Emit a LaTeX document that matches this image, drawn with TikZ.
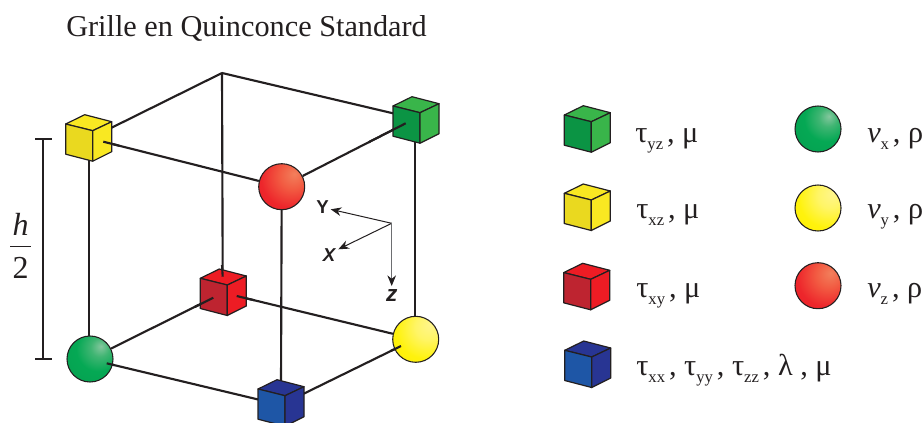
\documentclass[tikz,border=0pt]{standalone}
\usepackage{fontspec}
\setmainfont{Liberation Serif}
\setsansfont{Liberation Sans}
\usetikzlibrary{arrows.meta,calc,backgrounds}
\definecolor{ink}{HTML}{231F20}
\definecolor{axgray}{HTML}{6D6E71}
\definecolor{gT}{HTML}{39B54A}\definecolor{gL}{HTML}{0B9444}\definecolor{gR}{HTML}{39B54A}
\definecolor{yT}{HTML}{F9E822}\definecolor{yL}{HTML}{EAD91F}\definecolor{yR}{HTML}{F9E822}
\definecolor{rT}{HTML}{ED1C24}\definecolor{rL}{HTML}{BE2430}\definecolor{rR}{HTML}{ED1C24}
\definecolor{bT}{HTML}{283593}\definecolor{bL}{HTML}{1E56A6}\definecolor{bR}{HTML}{283593}
\pgfdeclareradialshading{ballgreen}{\pgfpoint{12bp}{14bp}}{rgb(0bp)=(0.52,0.78,0.62);rgb(10bp)=(0.25,0.71,0.45);rgb(24bp)=(0.02,0.66,0.33);rgb(50bp)=(0.02,0.62,0.31);rgb(100bp)=(0.02,0.62,0.31)}
\pgfdeclareradialshading{ballyellow}{\pgfpoint{16bp}{16bp}}{rgb(0bp)=(1,0.96,0.55);rgb(14bp)=(1,0.96,0.40);rgb(32bp)=(1,0.95,0.05);rgb(50bp)=(1,0.93,0);rgb(100bp)=(1,0.93,0)}
\pgfdeclareradialshading{ballred}{\pgfpoint{14bp}{14bp}}{rgb(0bp)=(0.95,0.50,0.36);rgb(14bp)=(0.95,0.36,0.26);rgb(32bp)=(0.93,0.15,0.17);rgb(50bp)=(0.93,0.11,0.14);rgb(100bp)=(0.93,0.11,0.14)}
\tikzset{
  x=0.75pt,y=-0.75pt,
  edge/.style={draw=ink,line width=1.6pt},
  face/.style={draw=ink,line width=0.9pt,line join=round},
  ball/.style={circle,draw=ink,line width=0.8pt,minimum size=34.5pt,inner sep=0pt,shading=#1},
  lab/.style={anchor=base west,inner sep=0pt,font=\fontsize{22.7}{26}\selectfont,text=ink},
  frac/.style={anchor=base,inner sep=0pt,font=\fontsize{24}{28}\selectfont,text=ink},
  axlab/.style={inner sep=0pt,font=\sffamily\bfseries\fontsize{14}{16}\selectfont,text=ink},
  axis/.style={draw=ink,line width=0.75pt,-{Stealth[length=8pt,width=6.5pt]}},
  pics/cube/.style n args={3}{code={
    \path[face,fill=#1] (0,0) -- (-27,-6.7) -- (-8,-16) -- (19,-9) -- cycle;
    \path[face,fill=#2] (0,0) -- (-27,-6.7) -- (-27,23.5) -- (0,30.5) -- cycle;
    \path[face,fill=#3] (0,0) -- (19,-9) -- (19,21) -- (0,30.5) -- cycle;
  }}
}
\newcommand{\sbs}[1]{\raisebox{-0.25em}{\fontsize{12.5}{12.5}\selectfont #1}\kern0.13em}
\begin{document}
\begin{tikzpicture}
\path[use as bounding box,clip] (0,0) rectangle (923,422);
\node[lab] (title) at (66,36) {Grille en Quinconce Standard};
% named points
\coordinate (topc) at (222,73);
\coordinate (ycF) at (92.7,130.7);
\coordinate (gcF) at (420,112.7);
\coordinate (rcF) at (227.3,285);
\coordinate (bcF) at (285,395.7);
\coordinate (yc1) at (111,128);
\coordinate (yc2) at (103.3,141.7);
\coordinate (yc3) at (88.7,155);
\coordinate (gc1) at (396,114);
\coordinate (gc2) at (405.7,123.3);
\coordinate (gc3) at (415.4,140);
\coordinate (rc1) at (222.7,276.7);
\coordinate (rc2) at (213.3,297.7);
\coordinate (rc3) at (236.7,296);
\coordinate (bc1) at (281,385);
\coordinate (bc2) at (262,400.4);
\coordinate (bc3) at (300,395.5);
\coordinate (sg1) at (106.7,363.3);
\coordinate (sy1) at (401,346);
% cubes and balls
\pic at (ycF) {cube={yT}{yL}{yR}};
\pic at (gcF) {cube={gT}{gL}{gR}};
\pic at (rcF) {cube={rT}{rL}{rR}};
\pic at (bcF) {cube={bT}{bL}{bR}};
\node[ball=ballred] (sr) at (281.7,186.7) {};
\node[ball=ballgreen] (sg) at (90,359) {};
\node[ball=ballyellow] (sy) at (415.7,339.3) {};
% connectors behind
\begin{scope}[on background layer]
\draw[edge] (topc) -- (yc1);
\draw[edge] (topc) -- (gc1);
\draw[edge] (topc) -- (rc1);
\draw[edge] (yc3) -- (yc3 |- sg);
\draw[edge] (gc3) -- (gc3 |- sy);
\draw[edge] (sr) -- (bc1);
\draw[edge] (sg) -- (rc2);
\draw[edge] (rc3) -- (sy);
\draw[edge] (sg1) -- (bc2);
\draw[edge] (bc3) -- (sy1);
\draw[edge] (yc2) -- (sr);
\draw[edge] (sr) -- (gc2);
\end{scope}
% over-drawn connector ends
\draw[edge] (yc2) -- ($(yc2)!0.09!(sr)$);
\draw[edge] (gc2) -- ($(gc2)!0.3!(sr)$);
\draw[edge] (topc |- 0,265) -- (rc1);
\draw[edge] (rc2) -- ($(rc2)!0.15!(sg)$);
\draw[edge] (rc3) -- ($(rc3)!0.1!(sy)$);
\draw[edge] (sg1) -- ($(sg1)!0.05!(bc2)$);
\draw[edge] (sy1) -- ($(sy1)!0.1!(bc3)$);
% h/2 bracket
\coordinate (brt) at (43,139);
\coordinate (brb) at (43,358.7);
\draw[draw=ink,line width=1.5pt] (brt) -- (brb);
\draw[draw=ink,line width=1.5pt] ($(brt)+(-8,0)$) -- ($(brt)+(8.7,0)$);
\draw[draw=ink,line width=1.5pt] ($(brb)+(-8,0)$) -- ($(brb)+(8.7,0)$);
\node[frac] (hh) at (20.5,235) {\itshape h};
\draw[draw=ink,line width=0.9pt] (10,246.7) -- (31,246.7);
\node[frac] (two) at (20.5,278) {2};
% axes
\coordinate (ax0) at (391.7,223.3);
\coordinate (axy) at (330.7,209.3);
\coordinate (axx) at (338.3,249.3);
\coordinate (axz) at (391.7,286);
\draw[axis] (ax0) -- (axy);
\draw[axis] (ax0) -- (axx);
\draw[axis,draw=axgray,-{Stealth[length=8pt,width=6.5pt,color=ink]}] (ax0) -- (axz);
\node[axlab] (ly) at (322.7,207) {Y};
\node[axlab,font=\sffamily\bfseries\itshape\fontsize{14}{16}\selectfont] (lx) at (329,255) {X};
\node[axlab,font=\sffamily\bfseries\itshape\fontsize{17}{18}\selectfont] (lz) at (391.7,296) {z};
% legend
\pic at (591.3,121.7) {cube={gT}{gL}{gR}};
\pic at (591.3,200) {cube={yT}{yL}{yR}};
\pic at (590.7,279.3) {cube={rT}{rL}{rR}};
\pic at (591.7,357) {cube={bT}{bL}{bR}};
\node[lab] (t1) at (635,142) {τ\sbs{yz}, μ};
\node[lab] (t2) at (636,218) {τ\sbs{xz}, μ};
\node[lab] (t3) at (636,297) {τ\sbs{xy}, μ};
\node[lab] (t4) at (636,375) {τ\sbs{xx}, τ\sbs{yy}, τ\sbs{zz}, λ , μ};
\node[ball=ballgreen] (l1) at (818,129) {};
\node[ball=ballyellow] (l2) at (818,208) {};
\node[ball=ballred] (l3) at (818,285.7) {};
\node[lab] (v1) at (867,142) {\textit{v}\sbs{x}, ρ};
\node[lab] (v2) at (867,218) {\textit{v}\sbs{y}, ρ};
\node[lab] (v3) at (867,297) {\textit{v}\sbs{z}, ρ};
\end{tikzpicture}
\end{document}
